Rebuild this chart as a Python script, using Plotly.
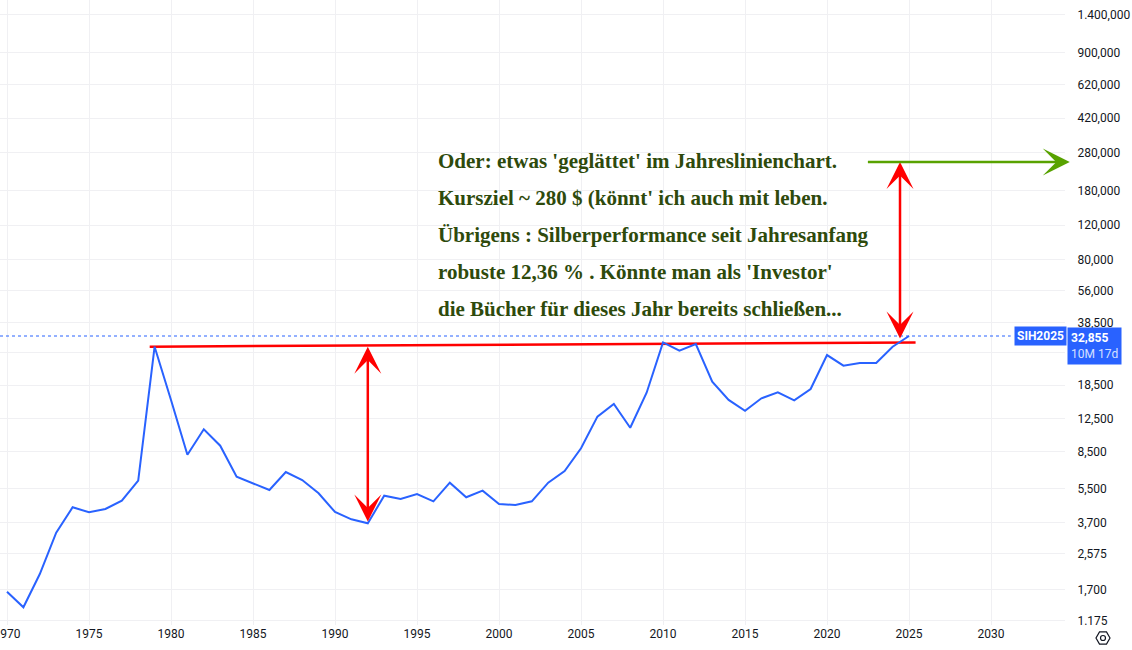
import numpy as np
import plotly.graph_objects as go

# yearly closes as shown on the chart (price x 1000)
years = list(range(1970, 2026))
closes = [1655, 1379, 2035, 3297, 4438, 4188, 4350, 4795, 6058, 28990,
          15560, 8206, 11050, 9120, 6346, 5875, 5432, 6700, 6105, 5226,
          4200, 3857, 3683, 5080, 4890, 5185, 4760, 5916, 4990, 5390,
          4613, 4560, 4760, 5916, 6780, 8850, 12800, 14840, 11250, 16940,
          30520, 27670, 29920, 19270, 15560, 13720, 15870, 17020, 15490, 17680,
          26300, 23230, 23970, 23970, 28990, 32855]
last_price = 32855

tick_vals = [1175, 1700, 2575, 3700, 5500, 8500, 12500, 18500, 27000, 38500,
             56000, 80000, 120000, 180000, 280000, 420000, 620000, 900000, 1400000]
tick_text = ["1.175", "1,700", "2,575", "3,700", "5,500", "8,500", "12,500", "18,500", "",
             "38,500", "56,000", "80,000", "120,000", "180,000", "280,000", "420,000",
             "620,000", "900,000", "1.400,000"]
year_ticks = list(range(1970, 2035, 5))

# drawn resistance line and arrows (year, value)
res_line_x = [1978.7, 2025.4]
res_line_y = [29000, 30500]
arrow_low = (1992.0, 29000, 3694)
arrow_high = (2024.45, 251000, 31370)
green_arrow = (2022.4, 2034.8, 251000)

note_lines = [
    "Oder: etwas 'geglättet' im Jahreslinienchart.",
    "Kursziel ~ 280 $ (könnt' ich auch mit leben.",
    "Übrigens : Silberperformance seit Jahresanfang",
    "robuste 12,36 % . Könnte man als 'Investor'",
    "die Bücher für dieses Jahr bereits schließen...",
]

W, H = 1132, 650
plot_w, plot_h = 1065, 625
x_range = [1969.573, 2034.51]
y_range = [3.0497, 6.2222]

fig = go.Figure()

# dotted last-price line
fig.add_trace(go.Scatter(x=[x_range[0], 2031.2], y=[last_price, last_price], mode="lines",
                         line=dict(color="#2962ff", width=1, dash="dot"), hoverinfo="skip"))
# red resistance line
fig.add_trace(go.Scatter(x=res_line_x, y=res_line_y, mode="lines",
                         line=dict(color="#ff0000", width=2.5), hoverinfo="skip"))
# price line
fig.add_trace(go.Scatter(x=years, y=closes, mode="lines",
                         line=dict(color="#2962ff", width=2)))

lg = np.log10
for xa, ytop, ybot in [arrow_low, arrow_high]:
    fig.add_annotation(x=xa, y=lg(ytop), ax=xa, ay=lg(ybot), xref="x", yref="y",
                       axref="x", ayref="y", text="", showarrow=True,
                       arrowhead=3, startarrowhead=3, arrowside="end+start",
                       arrowsize=1.8, startarrowsize=1.8, arrowwidth=2.5,
                       arrowcolor="#ff0000", standoff=0, startstandoff=0)

gx0, gx1, gy = green_arrow
fig.add_annotation(x=gx1, y=lg(gy), ax=gx0, ay=lg(gy), xref="x", yref="y",
                   axref="x", ayref="y", text="", showarrow=True,
                   arrowhead=3, arrowsize=1.8, arrowwidth=2.5,
                   arrowcolor="#58a200", standoff=0)

for i, line in enumerate(note_lines):
    fig.add_annotation(x=436 / plot_w, y=1 - (161 + 37 * i) / plot_h, xref="paper", yref="paper",
                       xanchor="left", yanchor="middle", text=line, showarrow=False,
                       font=dict(family="Liberation Serif, serif",
                                 size=21, color="#2e4a0c", weight="bold"))

# symbol and price tags on the axis
fig.add_annotation(x=1040 / plot_w, y=lg(last_price), xref="paper", yref="y",
                   text="<b>SIH2025</b>", showarrow=False, bgcolor="#2962ff",
                   font=dict(family="Roboto, sans-serif", size=12, color="white"),
                   borderpad=2, xanchor="center", yanchor="middle")
fig.add_annotation(x=1067 / plot_w, y=lg(last_price), xref="paper", yref="y",
                   text="<b>32,855</b><br><span style='color:#d6e0ff'>10M 17d</span>",
                   showarrow=False, bgcolor="#2962ff", align="left",
                   font=dict(family="Roboto, sans-serif", size=12, color="white"),
                   borderpad=3, xanchor="left", yanchor="top", yshift=9)

# settings icon bottom right
cx, cy, r = 1103 / plot_w, 1 - 638 / plot_h, 7
hx = [cx + r * np.cos(np.pi / 3 * k) / plot_w for k in range(6)]
hy = [cy + r * np.sin(np.pi / 3 * k) / plot_h for k in range(6)]
path = "M " + " L ".join(f"{a},{b}" for a, b in zip(hx, hy)) + " Z"
fig.add_shape(type="path", path=path, xref="paper", yref="paper",
              line=dict(color="#131722", width=1.2))
fig.add_shape(type="circle", xref="paper", yref="paper",
              x0=cx - 2.5 / plot_w, x1=cx + 2.5 / plot_w, y0=cy - 2.5 / plot_h, y1=cy + 2.5 / plot_h,
              line=dict(color="#131722", width=1.2))

fig.update_layout(
    width=W, height=H, showlegend=False,
    margin=dict(l=0, r=W - plot_w, t=0, b=H - plot_h, autoexpand=False),
    paper_bgcolor="white", plot_bgcolor="white",
    font=dict(family="Roboto, sans-serif", size=12, color="#131722"),
)
fig.update_xaxes(range=x_range, tickvals=year_ticks, showgrid=True, gridcolor="#f0f0f3",
                 zeroline=False, showline=False, ticks="", tickfont=dict(size=12),
                 automargin=False, ticklabeloverflow="allow")
fig.update_yaxes(type="log", range=y_range, side="right", tickvals=tick_vals, ticktext=tick_text,
                 showgrid=True, gridcolor="#f0f0f3", zeroline=False, showline=False,
                 ticks="outside", ticklen=9, tickcolor="rgba(0,0,0,0)", tickfont=dict(size=12),
                 automargin=False, ticklabeloverflow="allow")

# page body has a default 8px margin; drop it so the chart fills the window
fig.write_html("out.html", config={"displayModeBar": False},
               post_script="document.body.style.margin='0';")
